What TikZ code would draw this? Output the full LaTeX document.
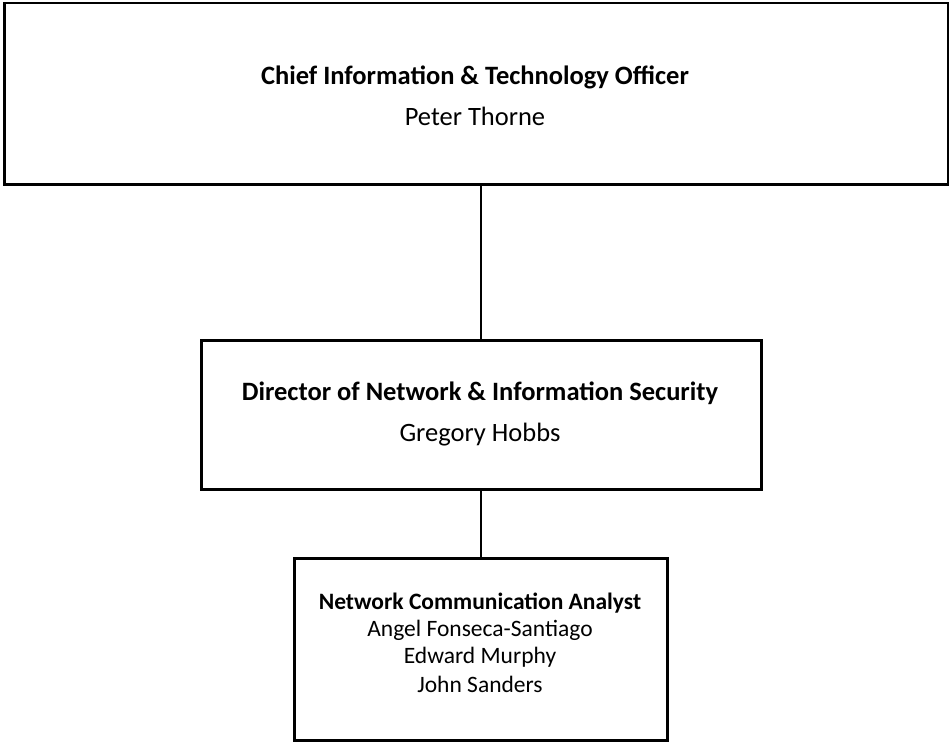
\documentclass[tikz,border=0pt]{standalone}
\usepackage{fontspec}
\setmainfont{Carlito}
\begin{document}
\begin{tikzpicture}[x=1pt,y=-1pt,
  box/.style={draw=black,line width=2.5pt,fill=white},
  conn/.style={draw=black,line width=2.5pt},
  ttl/.style={font=\fontsize{26.5}{30}\selectfont\bfseries,inner sep=0pt},
  nm/.style={font=\fontsize{26.5}{30}\selectfont,inner sep=0pt},
  sttl/.style={font=\fontsize{23.5}{27}\selectfont\bfseries,inner sep=0pt},
  snm/.style={font=\fontsize{23.5}{27}\selectfont,inner sep=0pt}]
\useasboundingbox (0,0) rectangle (949,741);
\node[box,minimum width=944pt,minimum height=181pt,anchor=north west] (cito) at (3,2) {};
\node[box,minimum width=560pt,minimum height=149pt,anchor=north west] (dir) at (200,339) {};
\node[box,minimum width=373pt,minimum height=182pt,anchor=north west] (nca) at (293,557) {};
\node[ttl] (t1) at (475,77) {Chief Information \& Technology Officer};
\node[nm] (n1) at (475,116) {Peter Thorne};
\node[ttl] (t2) at (480,393) {Director of Network \& Information Security};
\node[nm] (n2) at (480,435) {Gregory Hobbs};
\node[sttl] (t3) at (480,603) {Network Communication Analyst};
\node[snm] (n3a) at (480,630) {Angel Fonseca-Santiago};
\node[snm] (n3b) at (480,657) {Edward Murphy};
\node[snm] (n3c) at (480,684) {John Sanders};
\draw[conn] (cito.south -| 481,0) -- (dir.north -| 481,0);
\draw[conn] (dir.south -| 481,0) -- (nca.north -| 481,0);
\end{tikzpicture}
\end{document}
